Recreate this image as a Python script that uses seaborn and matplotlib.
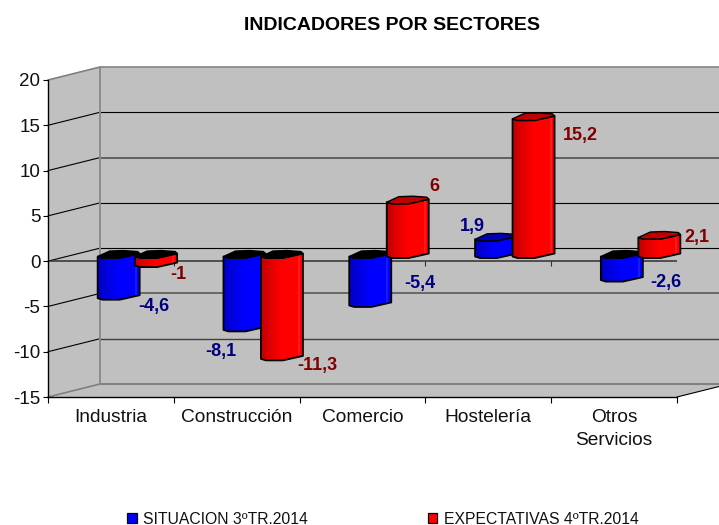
import numpy as np
import pandas as pd
import seaborn as sns
import matplotlib
matplotlib.use('Agg')
import matplotlib.pyplot as plt
from matplotlib.patches import Patch, Polygon

# data
sectores = ['Industria', 'Construcción', 'Comercio', 'Hostelería', 'Otros\nServicios']
situacion = [-4.6, -8.1, -5.4, 1.9, -2.6]
expectativas = [-1, -11.3, 6, 15.2, 2.1]
serie_names = ['SITUACION 3ºTR.2014', 'EXPECTATIVAS 4ºTR.2014']
yticks = [-15, -10, -5, 0, 5, 10, 15, 20]

# label offsets from the bar end, in px (right, down)
off_sit = [(35, 7), (-24, 20), (50, -23), (-24, -14), (44, 1)]
off_exp = [(22, 8), (35, 5), (27, -17), (47, 15), (38, -1)]

sns.set_theme(style='white')
plt.rcParams['font.family'] = ['Liberation Sans', 'DejaVu Sans']
plt.rcParams['axes.unicode_minus'] = False

W, H = 719, 525
fig = plt.figure(figsize=(W/100, H/100), dpi=100)
ax = fig.add_axes([48/W, 1-397/H, (677-48)/W, (397-80)/H])

df = pd.DataFrame({
    'sector': sectores*2,
    'valor': situacion+expectativas,
    'serie': [serie_names[0]]*5+[serie_names[1]]*5,
})
sns.barplot(data=df, x='sector', y='valor', hue='serie', palette=['#0000ff', '#ff0000'],
            width=0.596, saturation=1, legend=False, ax=ax)
ax.set_xlim(-0.5, 4.5)
ax.set_ylim(-15, 20)
ax.set_xlabel('')
ax.set_ylabel('')

# px -> data
DX = 5/629
DY = 35/317
depth_x, depth_y = 52*DX, 13*DY
x0, x1, y0, y1 = -0.5, 4.5, -15, 20

wall = '#c0c0c0'
ax.add_patch(Polygon([(x0+depth_x, y0+depth_y), (x1+depth_x, y0+depth_y), (x1+depth_x, y1+depth_y), (x0+depth_x, y1+depth_y)],
                     fc=wall, ec='none', zorder=0.1, clip_on=False))
ax.add_patch(Polygon([(x0, y0), (x0+depth_x, y0+depth_y), (x0+depth_x, y1+depth_y), (x0, y1)],
                     fc=wall, ec='none', zorder=0.1, clip_on=False))
ax.add_patch(Polygon([(x0, y0), (x1, y0), (x1+depth_x, y0+depth_y), (x0+depth_x, y0+depth_y)],
                     fc=wall, ec='none', zorder=0.1, clip_on=False))

grid_style = {20: ('#8c8c8c', 1.3), 15: ('#000000', 0.8), 10: ('#606060', 1.4), 5: ('#000000', 0.8),
              0: ('#000000', 0.8), -5: ('#505050', 1.1), -10: ('#404040', 1.0), -15: ('#808080', 1.5)}
for v in yticks:
    c, lw = grid_style[v]
    ax.plot([x0+depth_x, x1+depth_x], [v+depth_y]*2, color=c, lw=lw, zorder=0.2, clip_on=False)
    if v == 20 or v == -15:
        ax.plot([x0, x0+depth_x], [v, v+depth_y], color='#808080', lw=1.2, zorder=0.3, clip_on=False)
    else:
        ax.plot([x0, x0+depth_x], [v, v+depth_y], color='#000000', lw=0.8, zorder=0.3, clip_on=False)
ax.plot([x0+depth_x]*2, [y0+depth_y, y1+depth_y], color='#8c8c8c', lw=1.4, zorder=0.3, clip_on=False)
ax.plot([x1, x1+depth_x], [y0, y0+depth_y], color='#000000', lw=0.8, zorder=0.3, clip_on=False)

# zero line with its small ticks
bounds = np.arange(-0.5, 5)
ax.plot([x0, x1], [0, 0], color='#303030', lw=1.1, zorder=0.5)
ax.vlines(bounds[1:], -5*DY, 0, color='#303030', lw=0.8, zorder=0.5)


def shade(base):
    # dark on the left, full colour in the middle, pale strip near the right edge
    base = np.array(base, dtype=float)
    pos = np.linspace(0, 1, 42)
    k = np.interp(pos, [0, 0.3, 0.5, 0.9, 1], [0.76, 0.92, 1, 1, 1])
    row = np.outer(k, base)
    pale = (pos > 0.9) & (pos < 0.93)
    row[pale] = row[pale]*0.9+0.1
    return row[np.newaxis, :, :]


front = [(0, 0), (5, 1.5), (22, 1.5), (42, -3)]
back = [(42, -3), (40, -5), (26, -6), (12, -5.5), (0, 0)]
half = 21
base_lift = 4.6*DY
label_lift = 3.4*DY
colors3d = {0: (0, 0, 1), 1: (1, 0, 0)}
caps = {0: '#0000b4', 1: '#c00000'}
label_cols = ['#000080', '#800000']
label_off = [off_sit, off_exp]

for s, cont in enumerate(ax.containers):
    for i, bar in enumerate(cont):
        val = bar.get_height() if bar.get_y() >= 0 else bar.get_y()
        cx = bar.get_x()+bar.get_width()/2+26.5*DX
        left = cx-half*DX
        hi = max(val, 0)+base_lift
        lo = min(val, 0)+base_lift
        bottom = [(left+px*DX, lo-py*DY) for px, py in front]
        top = [(left+px*DX, hi-py*DY) for px, py in reversed(front)]
        outline = bottom+top
        z = 2+s+i*0.01
        clip = Polygon(outline, transform=ax.transData)
        bar.set_x(left)
        bar.set_width(2*half*DX)
        bar.set_y(lo-2*DY)
        bar.set_height(hi-lo+8*DY)
        bar.set_edgecolor('none')
        bar.set_zorder(z)
        bar.set_clip_box(fig.bbox)
        bar.set_clip_path(clip)
        im = ax.imshow(shade(colors3d[s]), extent=(left, left+2*half*DX, lo-2*DY, hi+6*DY),
                       aspect='auto', zorder=z+0.001, interpolation='bilinear')
        im.set_clip_box(fig.bbox)
        im.set_clip_path(clip)
        ax.add_patch(Polygon(outline, fc='none', ec='black', lw=1.3, zorder=z+0.002, joinstyle='round', clip_on=False))
        # top of the cylinder, black where the bar hangs from zero
        cap = [(left+px*DX, hi-py*DY) for px, py in front]+[(left+px*DX, hi-py*DY) for px, py in back]
        cap_col = caps[s] if val > 0 else '#000000'
        ax.add_patch(Polygon(cap, fc=cap_col, ec='black', lw=1.0, zorder=z+0.003, joinstyle='round', clip_on=False))
        # value label
        dx, dy = label_off[s][i]
        txt = f'{val:g}'.replace('.', ',')
        ax.text(cx+dx*DX, val+label_lift-dy*DY, txt, color=label_cols[s], fontsize=13, fontweight='bold',
                ha='center', va='center', zorder=6, clip_on=False)

ax.set_xlim(-0.5, 4.5)
ax.set_ylim(-15, 20)
ax.set_yticks(yticks)
ax.set_xticks(range(5))
ax.set_xticklabels(sectores, linespacing=1.4)
ax.set_xticks(bounds, minor=True)
ax.tick_params(axis='x', which='major', length=0, pad=9, labelsize=13.8, colors='#111111', bottom=False)
ax.tick_params(axis='x', which='minor', length=4.3, width=0.8, color='black', bottom=True)
ax.tick_params(axis='y', length=3.5, width=0.8, color='black', left=True, pad=2, labelsize=13.5, labelcolor='#111111')
for side in ['top', 'right']:
    ax.spines[side].set_visible(False)
for side in ['left', 'bottom']:
    ax.spines[side].set_visible(True)
    ax.spines[side].set_color('black')
    ax.spines[side].set_linewidth(1.0)
    ax.spines[side].set_zorder(1)

fig.text(392/W, 1-25/H, 'INDICADORES POR SECTORES', fontsize=14, fontweight='bold',
         ha='center', va='center', color='black')

handles = [Patch(fc='#0000ff', ec='black', lw=0.9), Patch(fc='#ff0000', ec='black', lw=0.9)]
fig.legend(handles, serie_names, ncol=2, frameon=False, fontsize=11.3, loc='center',
           bbox_to_anchor=(383/W, 1-519/H), handlelength=0.6, handleheight=0.6, handletextpad=0.42,
           columnspacing=7.6, borderpad=0, labelcolor='#111111')

fig.savefig('out.png', dpi=100)
